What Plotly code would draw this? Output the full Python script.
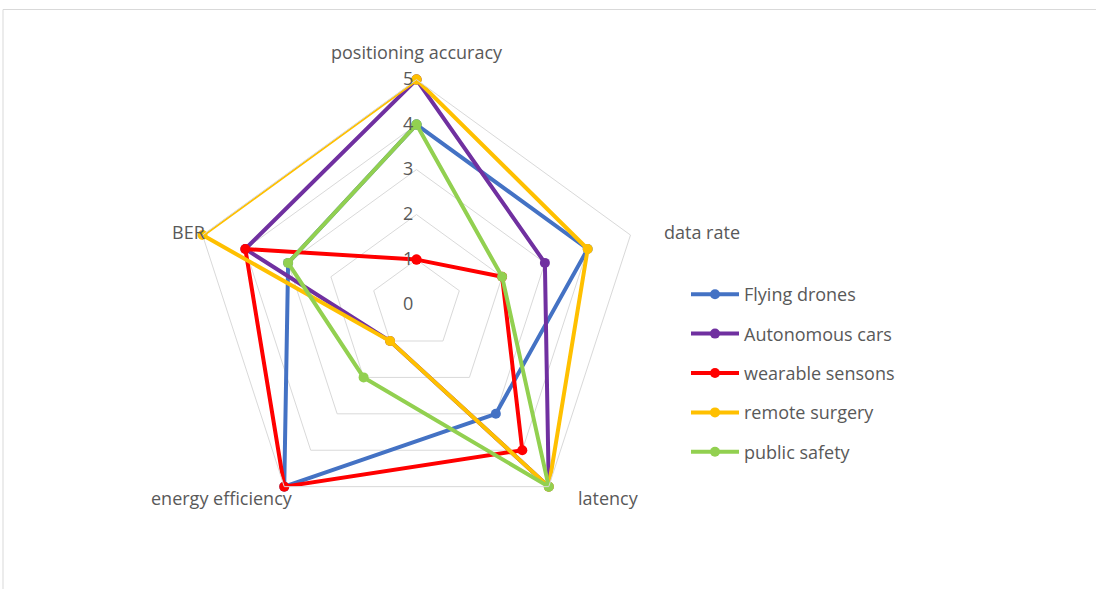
import plotly.graph_objects as go

# Radar categories (clockwise from the top)
categories = ["positioning accuracy", "data rate", "latency", "energy efficiency", "BER"]

# Scores per application, in category order
flying_drones = [4, 4, 3, 5, 3]
autonomous_cars = [5, 3, 5, 1, 4]
wearable_sensons = [1, 2, 4, 5, 4]
remote_surgery = [5, 4, 5, 1, 5]
public_safety = [4, 2, 5, 2, 3]

series_names = ["Flying drones", "Autonomous cars", "wearable sensons", "remote surgery", "public safety"]
series_values = [flying_drones, autonomous_cars, wearable_sensons, remote_surgery, public_safety]
series_colors = ["#4472C4", "#7030A0", "#FF0000", "#FFC000", "#92D050"]

radial_ticks = [0, 1, 2, 3, 4, 5]

TEXT = "#595959"
GRID = "#D9D9D9"
FONT = "'Open Sans', sans-serif"

fig = go.Figure()
for name, vals, color in zip(series_names, series_values, series_colors):
    fig.add_trace(go.Scatterpolar(
        r=vals + vals[:1],
        theta=categories + categories[:1],
        mode="lines+markers",
        name=name,
        legendgroup=name,
        line=dict(color=color, width=4),
        marker=dict(color=color, size=10),
    ))

W, H = 1096, 589
cx, cy, R = 416.5, 304.6, 225

# category labels placed around the outer pentagon
label_pos = {
    "positioning accuracy": dict(x=417, y=52, xanchor="center"),
    "data rate": dict(x=662, y=232, xanchor="left"),
    "latency": dict(x=576, y=498, xanchor="left"),
    "energy efficiency": dict(x=295, y=498, xanchor="right"),
    "BER": dict(x=207, y=232, xanchor="right"),
}
annotations = [
    dict(text=cat, xref="paper", yref="paper",
         x=p["x"] / W, y=1 - p["y"] / H, xanchor=p["xanchor"], yanchor="middle",
         showarrow=False, font=dict(size=18, color=TEXT, family=FONT))
    for cat, p in label_pos.items()
]

fig.update_layout(
    width=W, height=H,
    margin=dict(l=0, r=0, t=0, b=0),
    paper_bgcolor="white",
    plot_bgcolor="white",
    font=dict(family=FONT, size=16, color=TEXT),
    polar=dict(
        bgcolor="white",
        gridshape="linear",
        domain=dict(x=[(cx - R) / W, (cx + R) / W],
                    y=[(H - cy - R) / H, (H - cy + R) / H]),
        radialaxis=dict(
            range=[0, 5],
            tickvals=radial_ticks,
            ticktext=[str(t) for t in radial_ticks],
            angle=90,
            tickangle=90,
            side="counterclockwise",
            showline=False,
            ticks="",
            gridcolor=GRID,
            gridwidth=1,
            tickfont=dict(size=18, color=TEXT, family=FONT),
        ),
        angularaxis=dict(
            rotation=90,
            direction="clockwise",
            showgrid=False,
            showline=True,
            linecolor=GRID,
            linewidth=1,
            ticks="",
            showticklabels=False,
        ),
    ),
    annotations=annotations,
    legend=dict(
        x=686 / W, y=1 - 276 / H,
        xanchor="left", yanchor="top",
        bgcolor="rgba(0,0,0,0)",
        font=dict(size=18, color=TEXT, family=FONT),
        itemwidth=48,
        tracegroupgap=13,
    ),
    shapes=[
        dict(type="line", xref="paper", yref="paper",
             x0=3 / W, x1=1, y0=1 - 9.5 / H, y1=1 - 9.5 / H,
             line=dict(color=GRID, width=1)),
        dict(type="line", xref="paper", yref="paper",
             x0=3 / W, x1=3 / W, y0=0, y1=1 - 9.5 / H,
             line=dict(color=GRID, width=1)),
    ],
)

fig.write_html("out.html")
